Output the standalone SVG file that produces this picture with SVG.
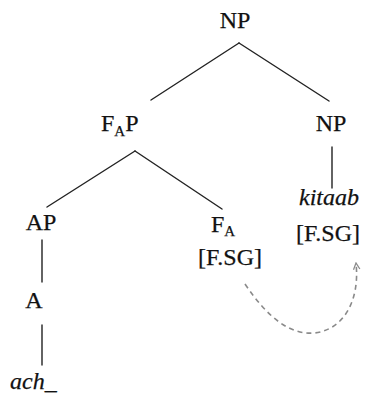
<svg xmlns="http://www.w3.org/2000/svg" width="366" height="398" viewBox="0 0 366 398">
<style>
text{font-family:'Liberation Serif','Times New Roman',serif;font-size:24px;fill:#111;stroke:#111;stroke-width:0.25}
.i{font-style:italic}
.sub{font-size:15px}
.e{stroke:#222;stroke-width:1.4;fill:none;stroke-linecap:round}
.d{stroke:#8a8a8a;stroke-width:1.6;fill:none;stroke-dasharray:5 4}
</style>
<defs>
<marker id="ah" viewBox="0 0 10 10" refX="9" refY="5" markerWidth="8" markerHeight="8" markerUnits="userSpaceOnUse" orient="auto">
<path d="M1,1 L9,5 L1,9" fill="none" stroke="#8a8a8a" stroke-width="1.6"/>
</marker>
</defs>
<rect width="366" height="398" fill="#fff"/>
<g id="connectors">
<line class="e" x1="239" y1="43" x2="151" y2="100"/>
<line class="e" x1="239" y1="43" x2="329" y2="101"/>
<line class="e" x1="135" y1="151" x2="47" y2="207"/>
<line class="e" x1="135" y1="151" x2="222" y2="209"/>
<line class="e" x1="332" y1="147" x2="332" y2="188"/>
<line class="e" x1="42" y1="240" x2="42" y2="282"/>
<line class="e" x1="42" y1="325" x2="42" y2="365"/>
<path class="d" d="M245,284 C268,318 290,335 314,333 C344,330 360,300 356,263" marker-end="url(#ah)"/>
</g>
<g id="np-root"><text x="235" y="28" text-anchor="middle">NP</text></g>
<g id="fap"><text x="101" y="131">F<tspan class="sub" dy="5">A</tspan><tspan dy="-5">P</tspan></text></g>
<g id="np-right"><text x="331" y="131" text-anchor="middle">NP</text></g>
<g id="kitaab"><text class="i" x="329" y="205" text-anchor="middle">kitaab</text><text x="328" y="241" text-anchor="middle">[F.SG]</text></g>
<g id="ap"><text x="41" y="230" text-anchor="middle">AP</text></g>
<g id="fa"><text x="211" y="232">F<tspan class="sub" dy="4">A</tspan></text><text x="230" y="265" text-anchor="middle">[F.SG]</text></g>
<g id="a"><text x="34" y="308" text-anchor="middle">A</text></g>
<g id="ach"><text class="i" x="10" y="389">ach_</text></g>
</svg>
